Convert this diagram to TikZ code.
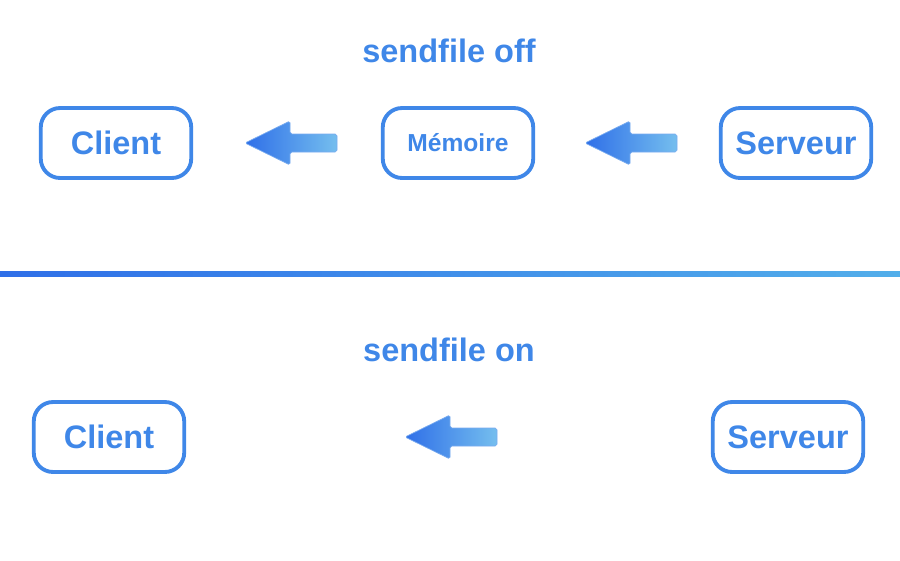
\documentclass[tikz,border=0pt]{standalone}
\usepackage{fontspec}
\setmainfont{Liberation Sans}
\definecolor{boxblue}{HTML}{3F87E8}
\definecolor{darkblue}{HTML}{2F6FE8}
\definecolor{lightblue}{HTML}{52AEEA}
\tikzset{
  unit/.style = {draw = boxblue, line width = 2.2pt, rounded corners = 11pt,
    minimum width = 3.01cm, minimum height = 1.4cm, text = boxblue, font = \bfseries\fontsize{18.5}{22}\selectfont},
  title/.style = {text = boxblue, font = \bfseries\fontsize{18.5}{22}\selectfont},
}
\newcommand{\flowarrow}[2]{% tip at #1, tail at #2
  \shade[left color = darkblue, right color = lightblue!80, draw = boxblue!70, line width = 0.4pt, rounded corners = 1pt]
    (#1) -- ($(#1)+(45,-22)$) -- ($(#1)+(45,-9)$) -- ($(#2)+(0,-9)$) -- ($(#2)+(0,9)$)
    -- ($(#1)+(45,9)$) -- ($(#1)+(45,22)$) -- cycle;}
\usetikzlibrary{calc}
\begin{document}
\begin{tikzpicture}[x = 0.02cm, y = -0.02cm]
        \useasboundingbox (0,0) rectangle (900,561);

        % sendfile off
        \node[title] (offtitle) at (449,51) {sendfile off};
        \node[unit] (client1) at (116,143) {Client};
        \node[unit, font = \bfseries\fontsize{14}{17}\selectfont] (memoire) at (458,143) {Mémoire};
        \node[unit] (serveur1) at (796,143) {Serveur};
        \coordinate (tipA) at (245,143);
        \coordinate (tailA) at (337,143);
        \coordinate (tipB) at (585,143);
        \coordinate (tailB) at (677,143);
        \flowarrow{tipA}{tailA}
        \flowarrow{tipB}{tailB}

        % divider
        \shade[left color = darkblue, right color = lightblue] (0,271.5) rectangle (900,276.5);

        % sendfile on
        \node[title] (ontitle) at (449,350) {sendfile on};
        \node[unit] (client2) at (109,437) {Client};
        \node[unit] (serveur2) at (788,437) {Serveur};
        \coordinate (tipC) at (405,437);
        \coordinate (tailC) at (497,437);
        \flowarrow{tipC}{tailC}
\end{tikzpicture}
\end{document}
